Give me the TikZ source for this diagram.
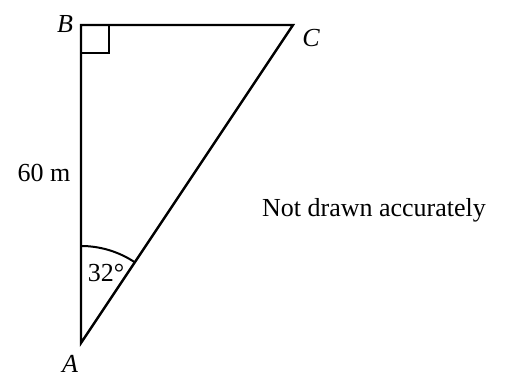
\documentclass[tikz,border=0pt]{standalone}
\usepackage{fontspec}
\setmainfont{Liberation Serif}
\usetikzlibrary{positioning}

\begin{document}
\begin{tikzpicture}[
    x=1pt, y=1pt,
    side/.style={
        line width=2.4pt,
        line join=miter
    },
    mark box/.style={
        line width=2pt
    },
    lbl/.style={
        font=\fontsize{26}{30}\selectfont,
        anchor=base,
        inner sep=0pt
    },
    vlbl/.style={
        lbl,
        font=\fontsize{26}{30}\selectfont\itshape
    }
]

\useasboundingbox (0,0) rectangle (515,379);

% corners of the triangle
\coordinate (A) at (81,36);
\coordinate (B) at (81,354);
\coordinate (C) at (293,354);

\draw[side] (A) -- (B) -- (C) -- cycle;

% right angle at B
\draw[mark box] ([yshift=-28pt]B) -| ([xshift=28pt]B);

% angle at A
\draw[mark box] ([shift={(90:97pt)}]A) arc[start angle=90, end angle=56.3, radius=97pt];

\node[vlbl] (labB) at (65,346) {B};
\node[vlbl] (labC) at (311,332) {C};
\node[vlbl] (labA) at (70,6) {A};

\node[lbl] (height) at (44,197) {60 m};
\node[lbl] (angle) at (106,97) {32\textdegree};
\node[lbl] (note) at (374,162) {Not drawn accurately};

\end{tikzpicture}
\end{document}
